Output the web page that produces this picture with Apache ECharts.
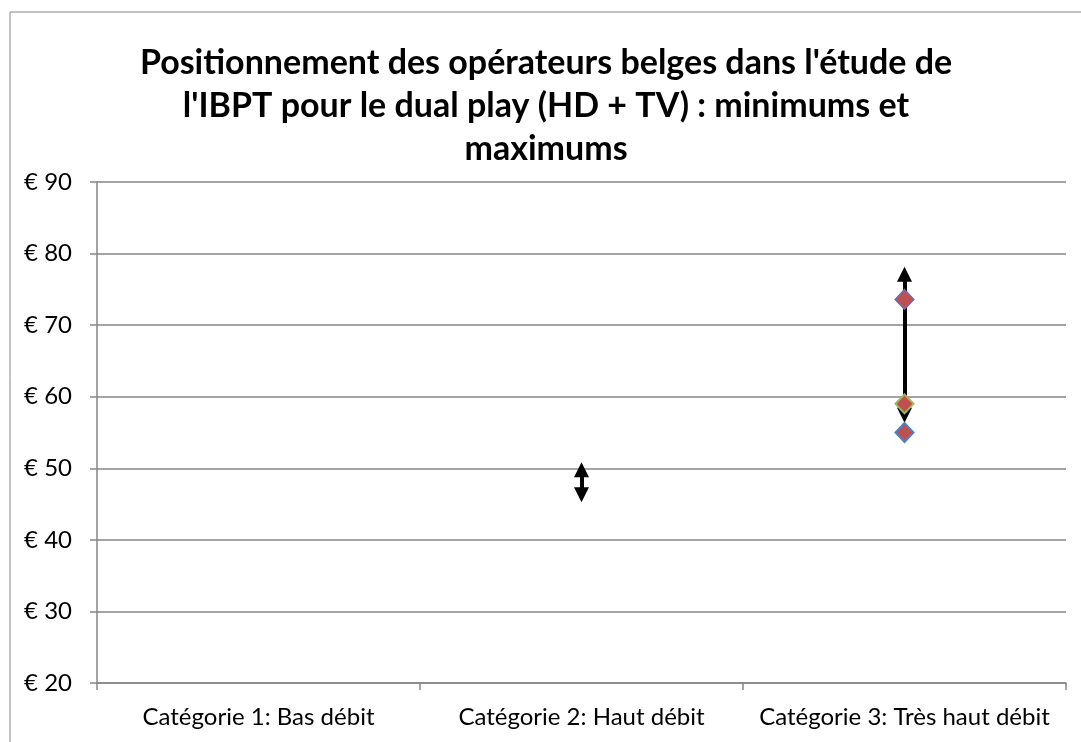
<!DOCTYPE html>
<html>
<head>
<meta charset="utf-8">
<script src="https://cdn.jsdelivr.net/npm/echarts@6/dist/echarts.min.js"></script>
<style>
  html, body { margin: 0; padding: 0; background: #fff; }
  #chart { width: 1081px; height: 742px; }
</style>
</head>
<body>
<div id="chart"></div>
<script>
// categories on the x axis
var categories = ['Catégorie 1: Bas débit', 'Catégorie 2: Haut débit', 'Catégorie 3: Très haut débit'];
var yTicks = [20, 30, 40, 50, 60, 70, 80, 90];

// price points (category index, value)
var pointMax = [[2, 73.6]];
var pointMid = [[2, 59]];
var pointMin = [[2, 55]];

// min/max arrows: [category index, low end, high end]
var arrows = [
	[1, 46.3, 49.8],
	[2, 57.4, 77.1]
];

var font = 'Lato, "Open Sans", sans-serif';
var head = 'path://M5,0 L10,10 L0,10 Z';

var arrowLines = arrows.map(function (a) {
	return [
		{ coord: [a[0], a[1]] },
		{ coord: [a[0], a[2]] }
	];
});

function diamond(name, data, border) {
	return {
		name: name,
		type: 'scatter',
		data: data,
		symbol: 'diamond',
		symbolSize: [18, 19],
		z: 5,
		itemStyle: {
			color: '#C0504D',
			opacity: 1,
			borderColor: border,
			borderWidth: 2
		}
	};
}

var chart = echarts.init(document.getElementById('chart'));
var option = {
	animation: false,
	backgroundColor: '#fff',
	graphic: [
		{
			type: 'rect',
			shape: { x: 10, y: 12, width: 1100, height: 760 },
			style: { fill: 'none', stroke: '#868686', lineWidth: 1 },
			z: -1
		}
	],
	title: {
		text: 'Positionnement des opérateurs belges dans l\'étude de\nl\'IBPT pour le dual play (HD + TV) : minimums et\nmaximums',
		left: 541,
		textAlign: 'center',
		top: 37,
		textStyle: {
			fontFamily: font,
			fontWeight: 'bold',
			fontSize: 34,
			lineHeight: 43,
			color: '#000'
		}
	},
	grid: {
		left: 97,
		right: 15,
		top: 182,
		bottom: 59
	},
	xAxis: {
		type: 'category',
		data: categories,
		boundaryGap: true,
		axisLine: { lineStyle: { color: '#868686', width: 1.5 } },
		axisTick: { show: true, interval: 0, length: 7, lineStyle: { color: '#868686', width: 1.5 } },
		axisLabel: {
			interval: 0,
			color: '#000',
			fontFamily: font,
			fontSize: 24,
			margin: 22
		}
	},
	yAxis: {
		type: 'value',
		min: yTicks[0],
		max: yTicks[yTicks.length - 1],
		interval: 10,
		axisLine: { show: true, lineStyle: { color: '#868686', width: 1.5 } },
		axisTick: { show: true, length: 7, lineStyle: { color: '#868686', width: 1.5 } },
		splitLine: { lineStyle: { color: '#868686', width: 1.5 } },
		axisLabel: {
			color: '#000',
			fontFamily: font,
			fontSize: 24,
			margin: 25,
			formatter: '€ {value}'
		}
	},
	series: [
		{
			name: 'arrows',
			type: 'scatter',
			data: [],
			markLine: {
				silent: true,
				symbol: [head, head],
				symbolSize: [15, 15],
				label: { show: false },
				lineStyle: { color: '#000', width: 4, type: 'solid' },
				data: arrowLines
			},
			z: 2
		},
		diamond('min', pointMin, '#4F81BD'),
		diamond('mid', pointMid, '#9BBB59'),
		diamond('max', pointMax, '#8064A2')
	]
};
chart.setOption(option);
</script>
</body>
</html>
